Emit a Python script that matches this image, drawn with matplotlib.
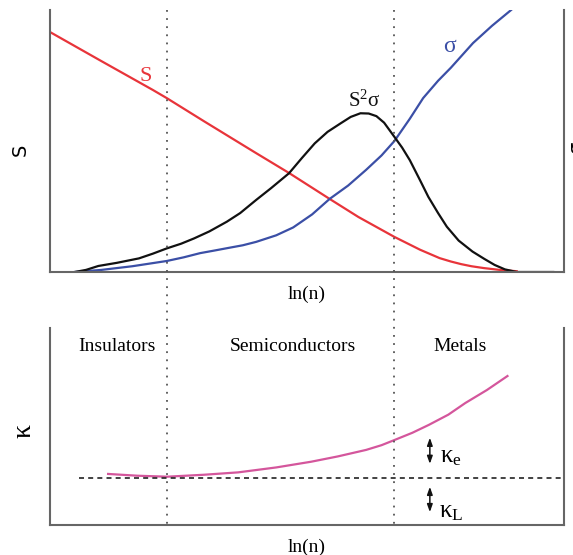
import matplotlib
matplotlib.use("Agg")
import matplotlib.pyplot as plt
from matplotlib.lines import Line2D
import matplotlib.transforms as transforms

serif = "Liberation Serif"
plt.rcParams["mathtext.fontset"] = "custom"
plt.rcParams["mathtext.rm"] = serif
plt.rcParams["mathtext.it"] = serif

# top panel curves (x = ln(n), arbitrary units)
s_x = [0, 1, 2, 2.27, 3, 4, 4.65, 5.44, 6.0, 6.7, 7.2, 7.58, 7.8, 8.0, 8.2, 8.44, 8.75, 9.08]
s_y = [9.16, 8.05, 6.95, 6.64, 5.75, 4.55, 3.78, 2.79, 2.1, 1.34, 0.85, 0.53, 0.4, 0.3,
       0.22, 0.15, 0.08, 0.03]

sig_x = [0.48, 1.0, 1.6, 2.27, 2.6, 2.92, 3.2, 3.5, 3.75, 4.01, 4.4, 4.73, 5.1, 5.44,
         5.8, 6.15, 6.45, 6.70, 7.0, 7.26, 7.55, 7.8, 8.23, 8.6, 8.97]
sig_y = [0, 0.08, 0.22, 0.42, 0.56, 0.72, 0.82, 0.93, 1.02, 1.15, 1.4, 1.7, 2.2, 2.79,
         3.3, 3.9, 4.45, 5.0, 5.85, 6.64, 7.3, 7.8, 8.74, 9.4, 10.0]

pf_x = [0.48, 0.7, 0.94, 1.3, 1.73, 2.0, 2.27, 2.55, 2.80, 3.1, 3.44, 3.7, 4.01, 4.3,
        4.65, 4.9, 5.15, 5.4, 5.65, 5.85, 6.04, 6.2, 6.35, 6.5, 6.70, 6.85, 7.0, 7.2,
        7.36, 7.55, 7.72, 7.95, 8.22, 8.45, 8.65, 8.85, 9.08, 9.79]
pf_y = [0, 0.08, 0.23, 0.35, 0.52, 0.7, 0.90, 1.08, 1.28, 1.55, 1.92, 2.25, 2.75, 3.2,
        3.77, 4.35, 4.91, 5.35, 5.67, 5.92, 6.06, 6.05, 5.95, 5.7, 5.16, 4.75, 4.27, 3.5,
        2.87, 2.25, 1.73, 1.2, 0.78, 0.5, 0.27, 0.1, 0, 0]

# bottom panel
kappa_x = [1.13, 1.7, 2.28, 3.0, 3.66, 4.4, 5.08, 5.6, 6.15, 6.45, 6.70, 7.05, 7.37,
           7.75, 8.08, 8.5, 8.90]
kappa_y = [2.59, 2.5, 2.45, 2.55, 2.67, 2.92, 3.21, 3.48, 3.81, 4.05, 4.31, 4.68, 5.08,
           5.6, 6.19, 6.85, 7.56]
kappa_lattice = 2.37

boundaries = [2.28, 6.70]
regions = ["Insulators", "Semiconductors", "Metals"]
region_x = [1.30, 4.73, 7.98]

fig = plt.figure(figsize=(5.73, 5.55), dpi=100)
ax1 = fig.add_axes([0.0873, 0.5099, 0.897, 0.472])
ax2 = fig.add_axes([0.0873, 0.0541, 0.897, 0.355])

for ax in (ax1, ax2):
    ax.set_xlim(0, 10)
    ax.set_ylim(0, 10)
    ax.set_xticks([])
    ax.set_yticks([])
    ax.spines["top"].set_visible(False)
    for sp in ("left", "right", "bottom"):
        ax.spines[sp].set_color("#666666")
        ax.spines[sp].set_linewidth(1.5)
    ax.set_xlabel("ln(n)", family=serif, fontsize=14, labelpad=10)

ax1.plot(s_x, s_y, color="#e8343a", lw=1.6)
ax1.plot(sig_x, sig_y, color="#3b4fa6", lw=1.6)
ax1.plot(pf_x, pf_y, color="#111111", lw=1.6)

ax1.text(1.87, 7.48, "S", color="#e8343a", family=serif, fontsize=16, ha="center", va="center")
ax1.text(7.78, 8.6, "σ", color="#3b4fa6", family=serif, fontsize=17, ha="center", va="center")
ax1.text(6.11, 6.56, r"$\mathrm{S^{2}σ}$", color="#111111", fontsize=15, ha="center", va="center")

ax2.plot(kappa_x, kappa_y, color="#d4569c", lw=1.6)
ax2.plot([0.56, 10], [kappa_lattice, kappa_lattice], color="#222222", lw=1.2, ls=(0, (3, 2.5)))

for name, xr in zip(regions, region_x):
    ax2.text(xr, 9.04, name, family=serif, fontsize=14, ha="center", va="center")

arrow_kw = dict(arrowstyle="<|-|>,head_length=0.45,head_width=0.16", color="#111111", lw=1.1)
ax2.annotate("", xy=(7.39, 4.57), xytext=(7.39, 2.96), arrowprops=arrow_kw)
ax2.annotate("", xy=(7.39, 2.08), xytext=(7.39, 0.51), arrowprops=arrow_kw)
ax2.text(7.8, 3.5, r"$\mathrm{κ_{e}}$", fontsize=18, ha="center", va="center")
ax2.text(7.8, 0.7, r"$\mathrm{κ_{L}}$", fontsize=18, ha="center", va="center")

# vertical dotted boundaries across both panels
trans = transforms.blended_transform_factory(ax1.transData, fig.transFigure)
for xb in boundaries:
    fig.add_artist(Line2D([xb, xb], [1 - 10 / 555, 1 - 525 / 555], transform=trans,
                          color="#555555", lw=1.3, ls=(0, (1, 3.5))))

# axis labels
fig.text(20 / 573, 1 - 150 / 555, "S", fontsize=14, rotation=90, ha="center", va="center")
fig.text(576 / 573, 1 - 147 / 555, "σ", fontsize=14, rotation=90, ha="center", va="center")
fig.text(24 / 573, 1 - 431 / 555, "κ", family=serif, fontsize=20, rotation=90,
         ha="center", va="center")

fig.savefig("out.png", dpi=100)
